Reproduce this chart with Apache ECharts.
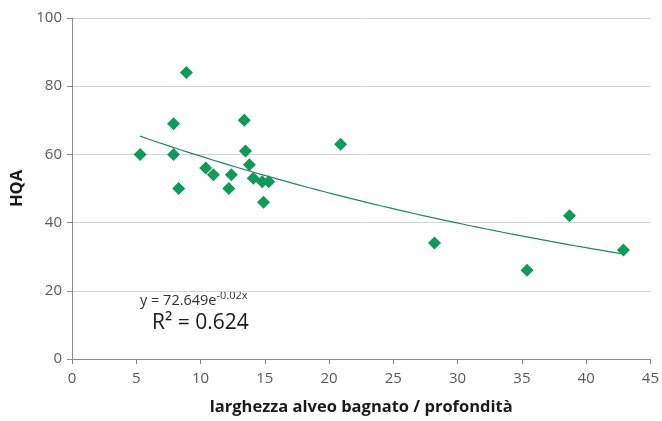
<!DOCTYPE html>
<html><head><meta charset="utf-8">
<script src="https://cdn.jsdelivr.net/npm/echarts@6/dist/echarts.min.js"></script>
<style>html,body{margin:0;padding:0;background:#fff}#c{width:662px;height:421px}</style>
</head><body><div id="c"></div>
<script>
// measured points: larghezza alveo bagnato / profondità vs HQA
var ratioX = [5.3, 7.9, 7.9, 8.3, 8.9, 10.4, 11.0, 12.2, 12.4, 13.4, 13.5, 13.8, 14.1, 14.8, 15.3, 14.9, 20.9, 28.2, 35.4, 38.7, 42.9];
var hqaY   = [60, 69, 60, 50, 84, 56, 54, 50, 54, 70, 61, 57, 53, 52, 52, 46, 63, 34, 26, 42, 32];
// trendline as stated on the chart: y = 72.649 e^(-0.02x)
var trendA = 72.649;
var trendB = -0.02;
var xTicks = [0, 5, 10, 15, 20, 25, 30, 35, 40, 45];
var yTicks = [0, 20, 40, 60, 80, 100];

var pts = ratioX.map(function(x, i){ return [x, hqaY[i]]; });
var xmin = Math.min.apply(null, ratioX), xmax = Math.max.apply(null, ratioX);
var trend = [];
for (var k = 0; k <= 60; k++) {
  var x = xmin + (xmax - xmin) * k / 60;
  trend.push([x, trendA * Math.exp(trendB * x)]);
}
var font = '"Open Sans", "Noto Sans", sans-serif';
var chart = echarts.init(document.getElementById('c'), null, {renderer: 'canvas'});
chart.setOption({
  animation: false,
  backgroundColor: '#fff',
  grid: {left: 72, right: 9, top: 18, bottom: 61, containLabel: false},
  xAxis: {
    type: 'value', min: xTicks[0], max: xTicks[xTicks.length-1], interval: 5,
    name: 'larghezza alveo bagnato / profondità', nameLocation: 'middle', nameGap: 40,
    nameTextStyle: {fontFamily: font, fontWeight: 'bold', fontSize: 16.5, color: '#1a1a1a'},
    axisLine: {show: true, lineStyle: {color: '#8c8c8c', width: 1}},
    axisTick: {show: true, length: 5, lineStyle: {color: '#8c8c8c'}},
    axisLabel: {fontFamily: font, fontSize: 15, color: '#595959', margin: 12},
    splitLine: {show: false}
  },
  yAxis: {
    type: 'value', min: yTicks[0], max: yTicks[yTicks.length-1], interval: 20,
    name: 'HQA', nameLocation: 'middle', nameGap: 36, nameRotate: 90,
    nameTextStyle: {fontFamily: font, fontWeight: 'bold', fontSize: 16.5, color: '#1a1a1a'},
    axisLine: {show: true, lineStyle: {color: '#8c8c8c', width: 1}},
    axisTick: {show: true, length: 5, lineStyle: {color: '#8c8c8c'}},
    axisLabel: {fontFamily: font, fontSize: 15, color: '#595959', margin: 10},
    splitLine: {show: true, lineStyle: {color: '#d4d4d4', width: 1}}
  },
  series: [
    {type: 'line', data: trend, showSymbol: false, smooth: false,
     lineStyle: {color: '#1e8a62', width: 1.2}, z: 2},
    {type: 'scatter', data: pts, symbol: 'diamond', symbolSize: 13,
     itemStyle: {color: '#0f9a58', opacity: 1}, z: 3}
  ],
  graphic: [
    {type: 'text', left: 140, top: 290, style: {
      text: '{a|y = 72.649e}{s|-0.02x}', fill: '#333',
      rich: {a: {fontFamily: font, fontSize: 14.5, fill: '#333', verticalAlign: 'bottom'},
             s: {fontFamily: font, fontSize: 11, fill: '#333', verticalAlign: 'top', padding: [0,0,7,0]}}
    }},
    {type: 'text', left: 152, top: 313, style: {
      text: 'R² = 0.624', fontFamily: font, fontSize: 21, fill: '#1a1a1a'
    }}
  ]
});
</script></body></html>
